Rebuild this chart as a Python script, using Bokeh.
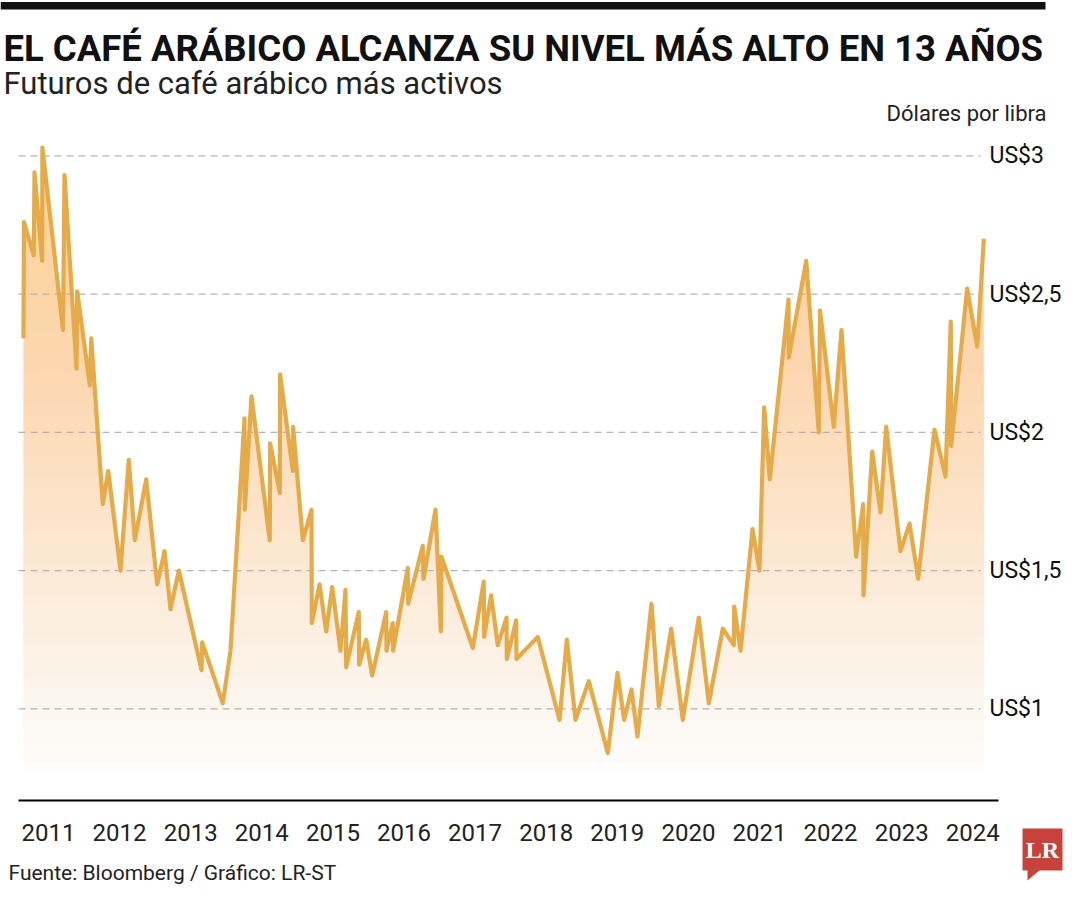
from bokeh.plotting import figure
from bokeh.models import Range1d, FixedTicker
from bokeh.core.properties import value
from bokeh.embed import file_html
from bokeh.resources import INLINE

# ---------------- data ----------------
date_year = [
    2010.648, 2010.655, 2010.793, 2010.803, 2010.911, 2010.914, 2011.204, 2011.225,
    2011.394, 2011.404, 2011.581, 2011.601, 2011.764, 2011.840, 2012.013, 2012.129,
    2012.214, 2012.374, 2012.529, 2012.632, 2012.716, 2012.833, 2013.152, 2013.162,
    2013.451, 2013.560, 2013.757, 2013.761, 2013.855, 2014.112, 2014.117, 2014.253,
    2014.257, 2014.436, 2014.440, 2014.577, 2014.699, 2014.703, 2014.812, 2014.906,
    2014.990, 2015.107, 2015.177, 2015.187, 2015.364, 2015.369, 2015.468, 2015.553,
    2015.750, 2015.754, 2015.842, 2015.847, 2016.053, 2016.059, 2016.264, 2016.274,
    2016.443, 2016.518, 2016.527, 2016.968, 2017.122, 2017.127, 2017.226, 2017.319,
    2017.442, 2017.446, 2017.578, 2017.582, 2017.882, 2018.187, 2018.290, 2018.412,
    2018.599, 2018.866, 2019.003, 2019.097, 2019.200, 2019.284, 2019.481, 2019.584,
    2019.758, 2019.921, 2020.146, 2020.287, 2020.484, 2020.639, 2020.644, 2020.733,
    2020.902, 2021.000, 2021.066, 2021.145, 2021.408, 2021.412, 2021.657, 2021.834,
    2021.851, 2022.045, 2022.153, 2022.360, 2022.458, 2022.463, 2022.585, 2022.702,
    2022.782, 2022.983, 2023.110, 2023.232, 2023.461, 2023.616, 2023.690, 2023.696,
    2023.921, 2024.062, 2024.155,
]
price_usd = [
    2.34, 2.76, 2.64, 2.94, 2.62, 3.03, 2.37, 2.93,
    2.23, 2.51, 2.17, 2.34, 1.74, 1.86, 1.50, 1.90,
    1.61, 1.83, 1.45, 1.57, 1.36, 1.50, 1.14, 1.24,
    1.02, 1.21, 2.05, 1.72, 2.13, 1.61, 1.96, 1.78,
    2.21, 1.86, 2.02, 1.61, 1.72, 1.31, 1.45, 1.28,
    1.44, 1.21, 1.43, 1.15, 1.35, 1.16, 1.25, 1.12,
    1.35, 1.21, 1.31, 1.21, 1.51, 1.38, 1.59, 1.47,
    1.72, 1.28, 1.55, 1.22, 1.46, 1.26, 1.41, 1.23,
    1.33, 1.18, 1.32, 1.18, 1.26, 0.96, 1.25, 0.96,
    1.10, 0.84, 1.13, 0.96, 1.07, 0.90, 1.38, 1.01,
    1.29, 0.96, 1.33, 1.02, 1.29, 1.23, 1.37, 1.21,
    1.65, 1.50, 2.09, 1.83, 2.48, 2.27, 2.62, 2.00,
    2.44, 2.02, 2.37, 1.55, 1.74, 1.41, 1.93, 1.71,
    2.02, 1.57, 1.67, 1.47, 2.01, 1.84, 2.40, 1.95,
    2.52, 2.31, 2.70,
]
year_ticks = [2011, 2012, 2013, 2014, 2015, 2016, 2017, 2018, 2019, 2020, 2021, 2022, 2023, 2024]
year_labels = ["2011", "2012", "2013", "2014", "2015", "2016", "2017",
               "2018", "2019", "2020", "2021", "2022", "2023", "2024"]
price_ticks = [1.0, 1.5, 2.0, 2.5, 3.0]
price_labels = ["US$1", "US$1,5", "US$2", "US$2,5", "US$3"]
title_text = "EL CAFÉ ARÁBICO ALCANZA SU NIVEL MÁS ALTO EN 13 AÑOS"
subtitle_text = "Futuros de café arábico más activos"
unit_text = "Dólares por libra"
source_text = "Fuente: Bloomberg / Gráfico: LR-ST"
logo_text = "LR"

# ---------------- layout helpers (reference pixel -> data) ----------------
def xr(px):
    return 2011 + (px - 48) / 71.1

def yr(py):
    return 1 + (708.3 - py) / 276.5

W, H = 1064, 884
FONT = "Roboto"
LINE_C = "#e5ab4a"
FILL_C = "#fcd597"

p = figure(width=W, height=H, output_backend="svg", toolbar_location=None,
           x_range=Range1d(xr(0), xr(W)), y_range=Range1d(yr(H), yr(0)),
           y_axis_location="right", min_border=0)
p.outline_line_color = None
p.background_fill_color = "white"
p.border_fill_color = "white"
p.xgrid.visible = False
p.ygrid.visible = False

x_lo, x_hi = p.x_range.start, p.x_range.end
y_lo = p.y_range.start

# area under the line
p.varea(x=date_year, y1=price_usd, y2=y_lo, fill_color=FILL_C, fill_alpha=1.0)

# white veils turning the fill into a vertical gradient
n = 60
v_top, v_bot = yr(140), yr(772)
for k in range(1, n + 1):
    lvl = v_top - k * (v_top - v_bot) / n
    p.quad(left=x_lo, right=x_hi, bottom=y_lo, top=lvl,
           fill_color="white", fill_alpha=1.0 / (n - k + 1), line_color=None)

# dashed grid lines
p.segment(x0=[xr(18)] * len(price_ticks), x1=[xr(980)] * len(price_ticks),
          y0=price_ticks, y1=price_ticks,
          line_color="#b4b4b4", line_width=1.2, line_dash="7 5")

# price line
p.line(date_year, price_usd, line_color=LINE_C, line_width=4.2, line_join="round")

# axes
xa = p.xaxis[0]
xa.fixed_location = yr(800)
xa.bounds = (xr(18), xr(998))
xa.ticker = FixedTicker(ticks=year_ticks)
xa.major_label_overrides = {t: l for t, l in zip(year_ticks, year_labels)}
xa.axis_line_color = "black"
xa.axis_line_width = 2
xa.major_tick_line_color = None
xa.minor_tick_line_color = None
xa.major_label_text_font = FONT
xa.major_label_text_font_size = "24px"
xa.major_label_text_color = "#222222"
xa.major_label_standoff = 17

ya = p.yaxis[0]
ya.fixed_location = xr(982)
ya.ticker = FixedTicker(ticks=price_ticks)
ya.major_label_overrides = {t: l for t, l in zip(price_ticks, price_labels)}
ya.axis_line_color = None
ya.major_tick_line_color = None
ya.minor_tick_line_color = None
ya.major_label_text_font = FONT
ya.major_label_text_font_size = "23px"
ya.major_label_text_color = "#111111"
ya.major_label_standoff = 1

# top bar
p.quad(left=x_lo, right=xr(1045), bottom=yr(9), top=yr(1.5), fill_color="#111111", line_color=None)

# titles
p.text(x=[xr(3)], y=[yr(48)], text=[title_text], text_font=value(FONT),
       text_font_style="bold", text_font_size="36.5px", text_color="#111111",
       text_baseline="middle", text_align="left")
p.text(x=[xr(3)], y=[yr(83)], text=[subtitle_text], text_font=value(FONT),
       text_font_size="31px", text_color="#222222",
       text_baseline="middle", text_align="left")
p.text(x=[xr(1046)], y=[yr(113)], text=[unit_text], text_font=value(FONT),
       text_font_size="22px", text_color="#222222",
       text_baseline="middle", text_align="right")
p.text(x=[xr(8)], y=[yr(872)], text=[source_text], text_font=value(FONT),
       text_font_size="21px", text_color="#222222",
       text_baseline="middle", text_align="left")

# LR logo
p.quad(left=xr(1022), right=xr(1062), bottom=yr(870), top=yr(828),
       fill_color="#c8423c", line_color=None)
p.patch(x=[xr(1027), xr(1040), xr(1027)], y=[yr(869), yr(869), yr(880)],
        fill_color="#c8423c", line_color=None)
p.text(x=[xr(1042)], y=[yr(849)], text=[logo_text], text_font=value("Liberation Serif"),
       text_font_style="bold", text_font_size="24px", text_color="white",
       text_baseline="middle", text_align="center")

open("out.html", "w").write(file_html(p, INLINE))
